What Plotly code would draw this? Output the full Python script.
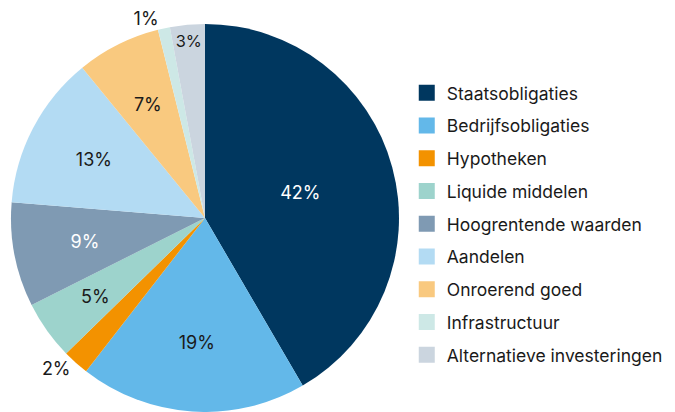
import plotly.graph_objects as go

categories = ["Staatsobligaties", "Bedrijfsobligaties", "Hypotheken", "Liquide middelen",
              "Hoogrentende waarden", "Aandelen", "Onroerend goed", "Infrastructuur",
              "Alternatieve investeringen"]
values = [41.6, 18.9, 2.2, 4.9, 8.7, 12.8, 7.0, 1.0, 2.9]
colors = ["#00375f", "#63b8e9", "#f39200", "#9dd3cc", "#7f9ab3", "#b3dbf3", "#f9c97f",
          "#cde8e6", "#cbd5df"]
text_colors = ["#ffffff", "#1a1a1a", "#1a1a1a", "#1a1a1a", "#ffffff", "#1a1a1a", "#1a1a1a",
               "#1a1a1a", "#1a1a1a"]
positions = ["inside", "inside", "outside", "inside", "inside", "inside", "inside", "outside", "inside"]
# relative radius of the (transparent) pie that carries each slice's label
label_ring = [1.0, 1.0, 1.0, 0.8, 0.8, 0.9, 0.8, 1.0, 1.0]

FONT = "Inter"
TPL = "%{value:.0f}%"

fig = go.Figure()
fig.add_trace(go.Pie(
    labels=categories, values=values, sort=False, direction="clockwise", rotation=0,
    marker=dict(colors=colors, line=dict(width=0)),
    texttemplate=[TPL if s == 1.0 else "" for s in label_ring], textposition=positions,
    insidetextorientation="horizontal",
    textfont=dict(family=FONT, size=18, color=text_colors),
    outsidetextfont=dict(family=FONT, size=18, color="#1a1a1a"),
    showlegend=False, hoverinfo="label+value",
))
for ring in sorted(set(label_ring) - {1.0}):
    pad = (1 - ring) / 2
    fig.add_trace(go.Pie(
        labels=categories, values=values, sort=False, direction="clockwise", rotation=0,
        marker=dict(colors=["rgba(0,0,0,0)"] * len(values), line=dict(width=0)),
        texttemplate=[TPL if s == ring else "" for s in label_ring], textposition="inside",
        insidetextorientation="horizontal",
        textfont=dict(family=FONT, size=18, color=text_colors),
        domain=dict(x=[pad, 1 - pad], y=[pad, 1 - pad]),
        showlegend=False, hoverinfo="skip",
    ))

for i, (c, col) in enumerate(zip(categories, colors)):
    fig.add_trace(go.Scatter(
        x=[None], y=[None], mode="markers", name=c, legendgroup=f"g{i}",
        marker=dict(symbol="square", size=16, color=col), showlegend=True,
        hoverinfo="skip",
    ))

# page body has an 8px margin, so the figure is sized to fit the remaining window
fig.update_layout(
    width=667, height=404,
    margin=dict(l=3, r=276, t=16, b=0, autoexpand=False),
    paper_bgcolor="white", plot_bgcolor="white",
    xaxis=dict(visible=False), yaxis=dict(visible=False),
    legend=dict(x=1.02, y=0.485, xanchor="left", yanchor="middle",
                font=dict(family=FONT, size=17.5, color="#1a1a1a"),
                tracegroupgap=7, itemclick=False, itemdoubleclick=False),
    font=dict(family=FONT),
)

fig.write_html("out.html")
